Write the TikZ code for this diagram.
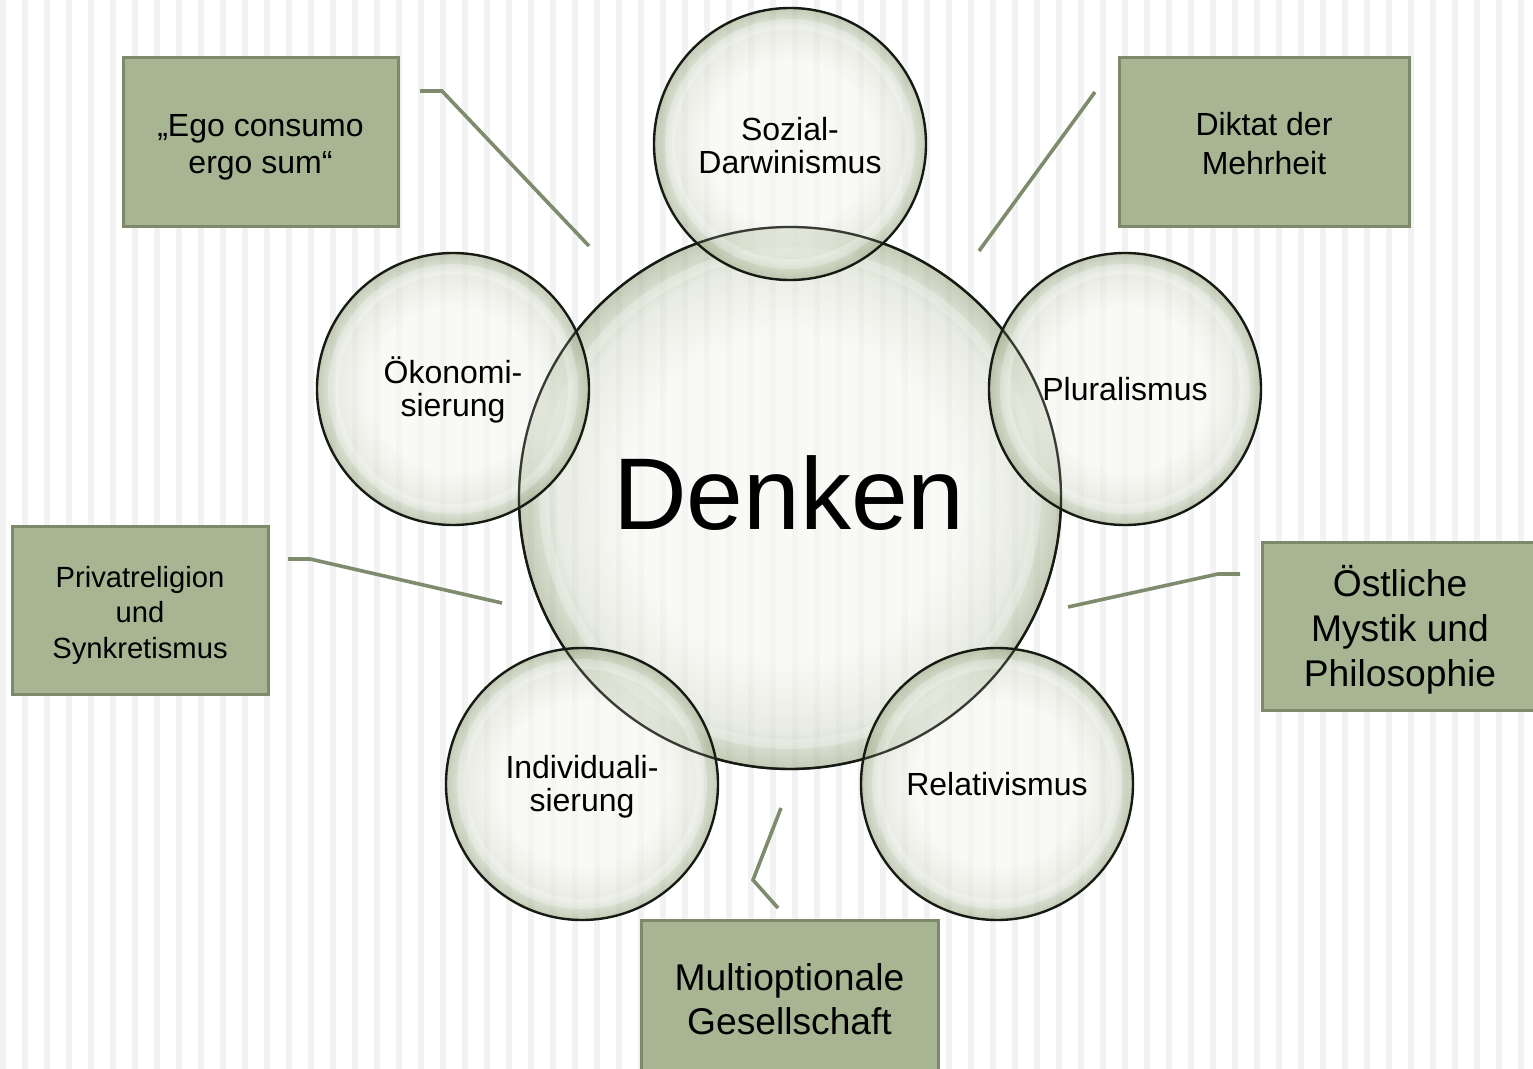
\documentclass[tikz,border=0pt]{standalone}
\usepackage{fontspec}
\setmainfont{Liberation Sans}
\definecolor{boxfill}{RGB}{167,181,147}
\definecolor{boxdraw}{RGB}{125,138,106}
\definecolor{linkcol}{RGB}{126,139,108}
\definecolor{stripecol}{RGB}{242,242,242}
\definecolor{rimcol}{RGB}{22,26,18}
\definecolor{bubin}{RGB}{246,247,242}
\definecolor{bubmid}{RGB}{220,225,210}
\definecolor{bubout}{RGB}{160,173,140}
\pgfdeclareradialshading{bubble}{\pgfpoint{0bp}{0bp}}{color(0bp)=(bubin); color(15bp)=(bubin); color(21.5bp)=(bubmid); color(25bp)=(bubout); color(50bp)=(bubout)}
\begin{document}
\begin{tikzpicture}[x=0.5pt,y=-0.5pt,
  bubblenode/.style={circle, inner sep=0pt, minimum size=#1, shade, shading=bubble,
    fill opacity=0.62, text opacity=1, draw=rimcol, draw opacity=1, line width=1.2pt,
    align=center, font=\fontsize{16pt}{16.5pt}\selectfont},
  ring/.style={white, line width=5pt, opacity=0.25},
  infobox/.style={rectangle, inner sep=0pt, fill=boxfill, draw=boxdraw, line width=1.5pt},
  boxtext/.style={align=center, inner sep=0pt},
  link/.style={linkcol, line width=1.8pt, line join=miter}
]
\useasboundingbox (0,0) rectangle (1533,1069);
\begin{scope}
\clip (0,0) rectangle (1533,1069);
\fill[white] (0,0) rectangle (1533,1069);
\foreach \i in {0,...,69} \fill[stripecol] ({22*\i},0) rectangle ++(6,1069);

% central circle
\node[bubblenode=271pt] (denken) at (790,498) {};
\draw[ring] (denken.center) circle[radius=123pt];
\node[font=\fontsize{51pt}{51pt}\selectfont, anchor=base, inner sep=0pt] (denkentext) at (789,530) {Denken};

% satellites
\node[bubblenode=136pt] (soz) at (790,144) {};
\node[bubblenode=136pt] (oek) at (453,389) {};
\node[bubblenode=136pt] (plu) at (1125,389) {};
\node[bubblenode=136pt] (ind) at (582,784) {};
\node[bubblenode=136pt] (rel) at (997,784) {};
\foreach \n in {soz,oek,plu,ind,rel} \draw[ring] (\n.center) circle[radius=60pt];
% central rim seen through the satellites
\draw[rimcol, line width=1.1pt, opacity=0.75] (denken.center) circle[radius=135.5pt];
\begin{scope}[every node/.style={align=center, inner sep=0pt, font=\fontsize{16pt}{16.5pt}\selectfont}]
\node (sozt) at (790,146) {Sozial-\\Darwinismus};
\node (oekt) at (453,390) {Ökonomi-\\sierung};
\node (plut) at (1125,389) {Pluralismus};
\node (indt) at (582,787) {Individuali-\\sierung};
\node (relt) at (997,784) {Relativismus};
\end{scope}

% boxes
\node[infobox, minimum width=137.5pt, minimum height=84.5pt] (ego) at (260.5,142.5) {};
\node[boxtext, font=\fontsize{16pt}{18.5pt}\selectfont] (egot) at (260.5,147) {„Ego consumo\\ergo sum“};
\node[infobox, minimum width=145pt, minimum height=84.5pt] (dik) at (1264,142.5) {};
\node[boxtext, font=\fontsize{16pt}{19.5pt}\selectfont] (dikt) at (1264,144) {Diktat der\\Mehrheit};
\node[infobox, minimum width=128pt, minimum height=84pt] (pri) at (140,611) {};
\node[boxtext, font=\fontsize{14.6pt}{17.75pt}\selectfont] (prit) at (140,615) {Privatreligion\\und\\Synkretismus};
\node[infobox, minimum width=139pt, minimum height=84pt] (ost) at (1401,627) {};
\node[boxtext, font=\fontsize{18.6pt}{22.5pt}\selectfont] (ostt) at (1400,630) {Östliche\\Mystik und\\Philosophie};
\node[infobox, minimum width=148.5pt, minimum height=84.5pt] (mul) at (789.5,1004.5) {};
\node[boxtext, font=\fontsize{18.6pt}{22pt}\selectfont] (mult) at (789.5,999) {Multioptionale\\Gesellschaft};

% connector ends
\coordinate (egoA) at (420,91);  \coordinate (egoB) at (442,91);  \coordinate (egoC) at (589,246);
\coordinate (dikA) at (1095,92); \coordinate (dikC) at (979,251);
\coordinate (priA) at (288,559); \coordinate (priB) at (310,559); \coordinate (priC) at (502,603);
\coordinate (ostA) at (1240,574); \coordinate (ostB) at (1218,574); \coordinate (ostC) at (1068,607);
\coordinate (mulA) at (781,808); \coordinate (mulB) at (753,880); \coordinate (mulC) at (778,908);

\draw[link] (egoA) -- (egoB) -- (egoC);
\draw[link] (dikA) -- (dikC);
\draw[link] (priA) -- (priB) -- (priC);
\draw[link] (ostA) -- (ostB) -- (ostC);
\draw[link] (mulA) -- (mulB) -- (mulC);
\end{scope}
\end{tikzpicture}
\end{document}
